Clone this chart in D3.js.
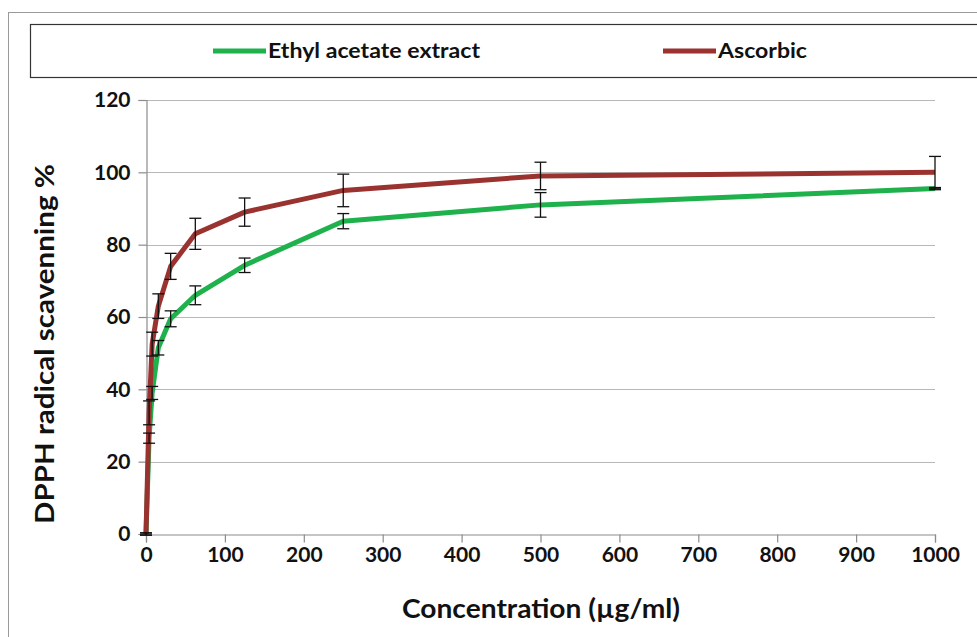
<!DOCTYPE html>
<html>
<head>
<meta charset="utf-8">
<script src="https://cdn.jsdelivr.net/npm/d3@7"></script>
<style>
  body { margin: 0; background: #fff; }
  svg { display: block; font-family: Lato, "Open Sans", sans-serif; }
</style>
</head>
<body>
<svg id="chart" width="977" height="637"></svg>
<script>
// Concentrations (µg/ml) and % scavenging
const concentrations = [0, 3.9, 7.8, 15.6, 31.25, 62.5, 125, 250, 500, 1000]
const ethylAcetate = [0, 26.5, 39, 51.5, 59.5, 66, 74.3, 86.5, 91, 95.5]
const ethylAcetateErr = [0.3, 1.4, 1.8, 2, 2.2, 2.6, 2, 2.1, 3.4, 0.3]
const ascorbic = [0, 33.5, 52.5, 63, 74, 83, 89, 95, 99, 100]
const ascorbicErr = [0.3, 3.3, 3.3, 3.4, 3.6, 4.3, 3.9, 4.5, 3.8, 4.4]
const xTicks = [0, 100, 200, 300, 400, 500, 600, 700, 800, 900, 1000]
const yTicks = [0, 20, 40, 60, 80, 100, 120]

const seriesNames = ["Ethyl acetate extract", "Ascorbic"]
const seriesColors = ["#1fb14c", "#9a3330"]

const svg = d3.select("#chart")

// outer frame and legend box
svg.append("rect")
  .attr("x", 8.5).attr("y", 12.5).attr("width", 1000).attr("height", 700)
  .attr("fill", "none").attr("stroke", "#9a9a9a")
svg.append("rect")
  .attr("x", 30.5).attr("y", 24.5).attr("width", 1000).attr("height", 53)
  .attr("fill", "none").attr("stroke", "#333").attr("stroke-width", 1.2)

const x = d3.scaleLinear().domain([0, 1000]).range([146, 935])
const y = d3.scaleLinear().domain([0, 120]).range([534, 100])

// horizontal gridlines
svg.append("g")
  .selectAll("line")
  .data(yTicks.filter((d) => d > 0))
  .join("line")
  .attr("x1", x(0)).attr("x2", x(1000))
  .attr("y1", (d) => Math.round(y(d)) + 0.5).attr("y2", (d) => Math.round(y(d)) + 0.5)
  .attr("stroke", "#b8b8b8").attr("stroke-width", 1.2)

// y axis
const yAxis = svg.append("g")
  .attr("transform", `translate(${x(0) + 0.5},0)`)
  .call(d3.axisLeft(y).tickValues(yTicks).tickSize(8).tickPadding(8))
yAxis.select(".domain").attr("stroke", "#8c8c8c").attr("stroke-width", 1.2)
yAxis.selectAll(".tick line").attr("stroke", "#8c8c8c").attr("stroke-width", 1.2)
yAxis.selectAll(".tick text")
  .attr("font-size", 21).attr("font-weight", "bold").attr("fill", "#111")
  .attr("font-family", "Lato, sans-serif")

// x axis
const xAxis = svg.append("g")
  .attr("transform", `translate(0,${Math.round(y(0)) + 0.5})`)
  .call(d3.axisBottom(x).tickValues(xTicks).tickFormat(d3.format("d")).tickSize(8).tickPadding(5))
xAxis.select(".domain").attr("stroke", "#8c8c8c").attr("stroke-width", 1.2)
xAxis.selectAll(".tick line").attr("stroke", "#8c8c8c").attr("stroke-width", 1.2)
xAxis.selectAll(".tick text")
  .attr("font-size", 21).attr("font-weight", "bold").attr("fill", "#111")
  .attr("font-family", "Lato, sans-serif")

// axis titles
svg.append("text")
  .attr("x", 541).attr("y", 618)
  .attr("text-anchor", "middle")
  .attr("font-size", 26).attr("font-weight", "bold").attr("fill", "#111")
  .attr("textLength", 278).attr("lengthAdjust", "spacingAndGlyphs")
  .text("Concentration (µg/ml)")
svg.append("text")
  .attr("transform", `translate(54,344) rotate(-90)`)
  .attr("text-anchor", "middle")
  .attr("font-size", 26).attr("font-weight", "bold").attr("fill", "#111")
  .attr("textLength", 360).attr("lengthAdjust", "spacingAndGlyphs")
  .text("DPPH radical scavenning %")

// series lines
const seriesValues = [ethylAcetate, ascorbic]
const seriesErrors = [ethylAcetateErr, ascorbicErr]
const line = d3.line()
  .x((d) => x(d[0]))
  .y((d) => y(d[1]))

seriesValues.forEach((vals, i) => {
  svg.append("path")
    .datum(concentrations.map((c, j) => [c, vals[j]]))
    .attr("d", line)
    .attr("fill", "none")
    .attr("stroke", seriesColors[i])
    .attr("stroke-width", 5)
    .attr("stroke-linejoin", "round")
})

// error bars
const capHalf = 6
seriesValues.forEach((vals, i) => {
  const errs = seriesErrors[i]
  const bars = svg.append("g")
    .selectAll("g")
    .data(concentrations.map((c, j) => ({ c, v: vals[j], e: errs[j] })))
    .join("g")
    .attr("stroke", "#111")
    .attr("stroke-width", 1.3)
  bars.append("line")
    .attr("x1", (d) => x(d.c)).attr("x2", (d) => x(d.c))
    .attr("y1", (d) => y(d.v - d.e)).attr("y2", (d) => y(d.v + d.e))
  bars.append("line")
    .attr("x1", (d) => x(d.c) - capHalf).attr("x2", (d) => x(d.c) + capHalf)
    .attr("y1", (d) => y(d.v + d.e)).attr("y2", (d) => y(d.v + d.e))
  bars.append("line")
    .attr("x1", (d) => x(d.c) - capHalf).attr("x2", (d) => x(d.c) + capHalf)
    .attr("y1", (d) => y(d.v - d.e)).attr("y2", (d) => y(d.v - d.e))
})

// legend
const legendX = [213, 663]
const legendTextLen = [212, 89]
seriesNames.forEach((name, i) => {
  svg.append("line")
    .attr("x1", legendX[i]).attr("x2", legendX[i] + 53)
    .attr("y1", 51).attr("y2", 51)
    .attr("stroke", seriesColors[i]).attr("stroke-width", 5)
  svg.append("text")
    .attr("x", legendX[i] + 55).attr("y", 51)
    .attr("dy", "0.35em")
    .attr("font-size", 21).attr("font-weight", "bold").attr("fill", "#111")
    .attr("textLength", legendTextLen[i]).attr("lengthAdjust", "spacingAndGlyphs")
    .text(name)
})
</script>
</body>
</html>
